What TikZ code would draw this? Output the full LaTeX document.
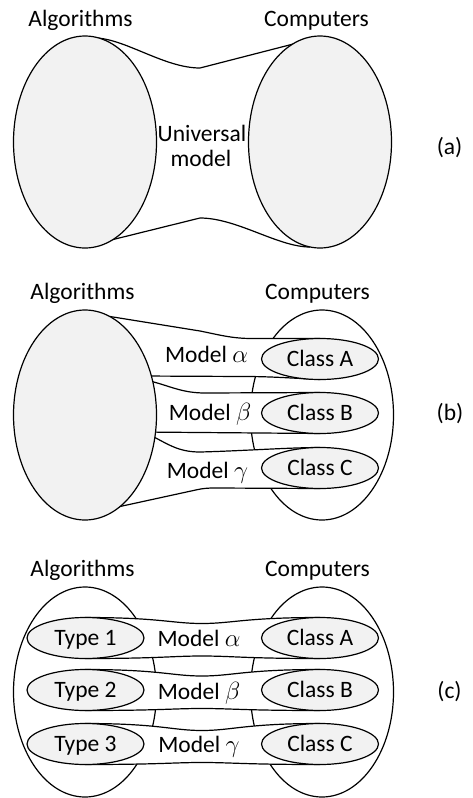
\documentclass[tikz,border=0pt]{standalone}
\usepackage{fontspec}
\setmainfont{Carlito}
\usetikzlibrary{shapes.geometric}
\definecolor{shade}{RGB}{242,242,242}
\begin{document}
\begin{tikzpicture}[x=1pt,y=-1pt,line width=1.2pt,line join=round,
  bigell/.style={ellipse,draw,minimum width=143pt,minimum height=210pt,inner sep=0pt},
  smallell/.style={ellipse,draw,fill=shade,minimum width=117pt,minimum height=41pt,inner sep=0pt,font=\fontsize{23.5}{28}\selectfont,text height=15pt,text depth=0pt},
  lbl/.style={inner sep=0pt,anchor=base,font=\fontsize{23.5}{28}\selectfont},
  band/.style={draw,fill=white}]
\useasboundingbox (0,0) rectangle (473,798);
% ---------- panel (a)
\draw (97,38) .. controls (127,40) and (165,68) .. (200,68) -- (305,41);
\draw (99,243) -- (200,218) .. controls (237,218) and (278,247) .. (310,247);
\node[bigell,fill=shade,minimum height=212pt] (La) at (85,142) {};
\node[bigell,fill=shade,minimum height=212pt] (Ra) at (320,142) {};
\node[lbl] (tA1) at (80.5,26) {Algorithms};
\node[lbl] (tC1) at (316.5,26) {Computers};
\node[lbl] (tU) at (202,141.7) {Universal};
\node[lbl] (tM) at (201,166.7) {model};
\node[lbl] (pa) at (449.5,154) {(a)};
% ---------- panel (b)
\node[bigell,fill=white] (Rb) at (322,415) {};
\draw[band] (110,316.5) -- (200,331) .. controls (220,335) and (232,338.5) .. (252,338.5) -- (320,338.5) -- (320,379.5) .. controls (290,378) and (270,376.5) .. (245,376.5) -- (140,376) -- cycle;
\draw[band] (150,381) .. controls (170,386) and (182,393) .. (205,393) -- (320,392.5) -- (320,433.5) -- (140,432) -- cycle;
\draw[band] (150,435) .. controls (168,444) and (178,452) .. (200,452) .. controls (240,451) and (290,447.5) .. (320,447.5) -- (320,488.5) -- (215,488) .. controls (207,488) and (203,488.5) .. (198,489.5) -- (120,506.5) -- cycle;
\node[bigell,fill=shade] (Lb) at (85,415) {};
\node[smallell] (CAb) at (320,359) {Class A};
\node[smallell] (CBb) at (320,413) {Class B};
\node[smallell] (CCb) at (320,468) {Class C};
\node[lbl] (mab) at (206.5,362) {Model $\alpha$};
\node[lbl] (mbb) at (210,420) {Model $\beta$};
\node[lbl] (mgb) at (207.5,478.5) {Model $\gamma$};
\node[lbl] (tA2) at (82.5,299) {Algorithms};
\node[lbl] (tC2) at (317.5,299) {Computers};
\node[lbl] (pb) at (450,420) {(b)};
% ---------- panel (c)
\node[bigell,fill=white] (Lc) at (85,692) {};
\node[bigell,fill=white] (Rc) at (322,692) {};
\draw[band] (85,617.5) .. controls (160,617.5) and (172,623.5) .. (202,623.5) .. controls (232,623.5) and (245,617.5) .. (320,617.5) -- (320,658.5) .. controls (245,658.5) and (232,656) .. (202,656) .. controls (172,656) and (160,658.5) .. (85,658.5) -- cycle;
\draw[band] (85,669.5) .. controls (160,669.5) and (172,676) .. (202,676) .. controls (232,676) and (245,669.5) .. (320,669.5) -- (320,710.5) .. controls (245,710.5) and (232,708.5) .. (202,708.5) .. controls (172,708.5) and (160,710.5) .. (85,710.5) -- cycle;
\draw[band] (85,723.5) .. controls (160,723.5) and (172,730.5) .. (202,730.5) .. controls (232,730.5) and (245,723.5) .. (320,723.5) -- (320,764.5) .. controls (245,764.5) and (232,762.5) .. (202,762.5) .. controls (172,762.5) and (160,764.5) .. (85,764.5) -- cycle;
\node[smallell] (T1) at (85.5,638) {Type 1};
\node[smallell] (T2) at (85.5,690) {Type 2};
\node[smallell] (T3) at (85.5,744) {Type 3};
\node[smallell] (CAc) at (320,638) {Class A};
\node[smallell] (CBc) at (320,690) {Class B};
\node[smallell] (CCc) at (320,744) {Class C};
\node[lbl] (mac) at (199,646) {Model $\alpha$};
\node[lbl] (mbc) at (199,699) {Model $\beta$};
\node[lbl] (mgc) at (199,752) {Model $\gamma$};
\node[lbl] (tA3) at (82.5,576) {Algorithms};
\node[lbl] (tC3) at (317.5,576) {Computers};
\node[lbl] (pc) at (449.5,698) {(c)};
\end{tikzpicture}
\end{document}
